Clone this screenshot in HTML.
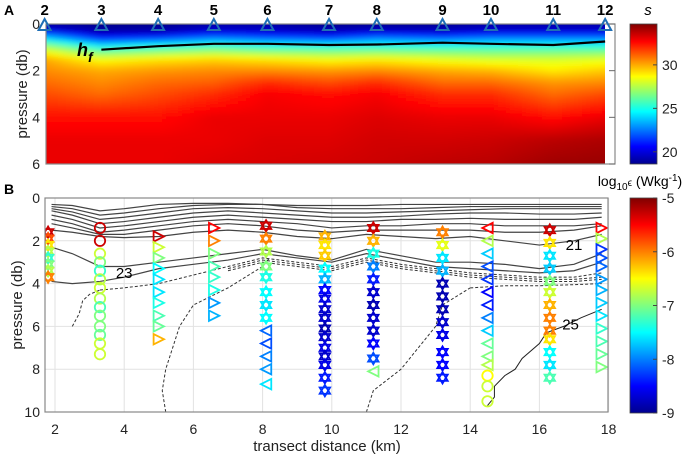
<!DOCTYPE html>
<html><head><meta charset="utf-8"><style>
body{margin:0;background:#fff;width:700px;height:460px;overflow:hidden;font-family:"Liberation Sans",Arial,sans-serif}
svg{display:block}
</style></head><body>
<svg id="fig" width="700" height="460" viewBox="0 0 700 460" xmlns="http://www.w3.org/2000/svg">
<defs>
<filter id="blur" x="0" y="0" width="1" height="1"><feGaussianBlur stdDeviation="3"/></filter>
<clipPath id="clipA"><rect x="46" y="24" width="559" height="140"/></clipPath>
<clipPath id="clipB"><rect x="45" y="198" width="563" height="214"/></clipPath>
<linearGradient id="jet" x1="0" y1="1" x2="0" y2="0">
<stop offset="0" stop-color="#00008f"/><stop offset="0.125" stop-color="#0000ff"/><stop offset="0.375" stop-color="#00ffff"/><stop offset="0.625" stop-color="#ffff00"/><stop offset="0.875" stop-color="#ff0000"/><stop offset="1" stop-color="#800000"/>
</linearGradient>
</defs>
<text x="4" y="15" font-size="14" font-weight="bold">A</text>
<text x="4" y="194" font-size="14" font-weight="bold">B</text>
<g id="panelA"></g>
<g id="panelB"></g>
<text transform="translate(27,94) rotate(-90)" text-anchor="middle" font-size="15" fill="#222">pressure (db)</text>
<text transform="translate(22,305) rotate(-90)" text-anchor="middle" font-size="15" fill="#222">pressure (db)</text>
<text x="327" y="451" text-anchor="middle" font-size="15" fill="#222">transect distance (km)</text>
<rect x="630" y="24" width="27" height="140" fill="url(#jet)"/>
<text x="648" y="15" font-size="15" font-style="italic" text-anchor="middle">s</text>
<rect x="630" y="198" width="27" height="215" fill="url(#jet)"/>
<text x="640" y="186" font-size="14" text-anchor="middle">log<tspan font-size="10" dy="4">10</tspan><tspan dy="-4" font-size="10">ϵ</tspan> (Wkg<tspan font-size="10" dy="-5">-1</tspan><tspan dy="5">)</tspan></text>
<g id="cbars"></g>
</svg>
<script>
// ---------- data ----------
const stationNames = ["2","3","4","5","6","7","8","9","10","11","12"];
const stationKm = [1.7,3.34,4.98,6.59,8.14,9.92,11.3,13.2,14.6,16.4,17.9];
const salDepths = [0,0.3,0.6,1.0,1.5,2,2.5,3,4,5,6];
const salS2 = [19,20.5,24,27.5,30,30.5,31,31.5,32.5,33,33];
const salS3 = [18.8,19.2,21,25,28.5,30,30.5,31,32.5,33,33];
const salS4 = [18.8,19.3,21.5,25.5,29,30.3,31,31.5,32.5,33,33];
const salS5 = [19.2,20,22.5,26,29.3,30.5,31.2,32,33,33,33.2];
const salS6 = [19.2,19.8,22,25.5,29,30.5,32,32.8,33,33.2,33.3];
const salS7 = [18.8,19.5,21.5,25.5,28.5,30.3,31.5,32.5,33,33.2,33.4];
const salS8 = [18.9,19.8,22.5,25.5,28.8,30.5,32,32.8,33.2,33.4,33.5];
const salS9 = [18.9,19.6,22,25.5,28.3,30,31,32,33,33.4,33.7];
const salS10 = [19.2,20,22.5,25.5,28,29.8,31,32,33,33.5,33.8];
const salS11 = [19.2,20,22.5,25.5,28,29,30.3,31,32.5,33.8,34.2];
const salS12 = [19.2,20,22.5,25.5,28.2,29.5,30.5,31.5,33,34,34.3];
const salCols = [salS2,salS3,salS4,salS5,salS6,salS7,salS8,salS9,salS10,salS11,salS12];
const hfKm = [3.34,4.98,6.59,8.14,9.92,11.3,13.2,14.6,16.4,17.9];
const hfDepth = [1.1,0.95,0.85,0.85,0.9,0.88,0.8,0.85,0.9,0.75];
const salTicks = [20,25,30];
const epsTicks = [-5,-6,-7,-8,-9];
const xTicks = [2,4,6,8,10,12,14,16,18];
const yTicksA = [0,2,4,6];
const yTicksB = [0,2,4,6,8,10];

// profiles (station km, shape, depths, log10 eps)
const profKm = [1.8,3.3,5.0,6.6,8.1,8.1,9.8,11.2,11.2,13.2,14.5,14.5,16.3,17.8];
const profShape = ["star","circle","tri-r","tri-r","star","tri-l","star","star","tri-l","star","tri-l","circle","star","tri-r"];
const profDepths = [
 [1.6,1.9,2.2,2.5,2.8,3.1,3.4,3.7],
 [1.4,2.0,2.6,3.0,3.4,3.8,4.2,4.7,5.1,5.5,6.0,6.4,6.8,7.3],
 [1.8,2.3,2.8,3.3,3.8,4.4,4.9,5.5,6.0,6.6],
 [1.4,2.0,2.6,3.2,3.7,4.3,4.9,5.5],
 [1.3,1.9,2.5,3.2,3.7,4.4,5.0,5.6],
 [6.2,6.8,7.4,8.0,8.7],
 [1.8,2.2,2.7,3.3,3.8,4.3,4.7,5.2,5.6,6.1,6.5,7.0,7.4,7.8,8.4,9.0],
 [1.4,2.0,2.6,3.2,3.8,4.4,5.0,5.6,6.2,6.8,7.5],
 [8.1],
 [1.6,2.2,2.8,3.4,4.0,4.6,5.2,5.8,6.4,7.2,7.8,8.4],
 [1.4,2.0,2.6,3.2,3.8,4.4,5.0,5.6,6.2,6.8,7.4,7.8],
 [8.3,8.8,9.5],
 [1.5,2.1,2.7,3.3,3.9,4.4,5.0,5.6,6.2,6.6,7.2,7.8,8.4],
 [1.4,1.9,2.4,2.8,3.2,3.8,4.3,4.9,5.5,6.1,6.7,7.3,7.9]
];
const profEps = [
 [-5.3,-5.8,-6.4,-6.8,-7.3,-7.0,-6.8,-6.0],
 [-5.3,-5.3,-6.7,-7.0,-7.3,-6.8,-6.7,-6.8,-7.2,-7.0,-7.0,-7.1,-6.7,-6.7],
 [-5.3,-6.7,-7.0,-7.5,-7.6,-7.6,-7.4,-7.2,-7.1,-6.2],
 [-5.5,-6.0,-7.0,-7.2,-7.3,-7.4,-7.9,-7.8],
 [-5.3,-6.0,-6.8,-7.0,-7.4,-7.5,-7.6,-7.5],
 [-8.1,-8.2,-8.0,-7.9,-7.6],
 [-6.2,-6.4,-6.3,-7.5,-7.8,-8.5,-8.6,-8.7,-8.7,-8.8,-8.7,-8.6,-8.7,-8.6,-8.4,-8.3],
 [-5.3,-6.2,-7.4,-8.0,-8.4,-8.7,-8.8,-8.7,-8.7,-8.5,-8.2],
 [-7.0],
 [-6.0,-6.6,-7.6,-7.8,-8.8,-8.8,-8.8,-8.7,-8.6,-8.5,-8.5,-8.4],
 [-5.5,-6.8,-7.7,-8.2,-8.3,-8.5,-8.4,-8.0,-7.7,-7.1,-7.0,-6.8],
 [-6.5,-6.7,-6.7],
 [-5.3,-6.4,-7.6,-7.7,-7.0,-6.7,-6.2,-6.0,-6.0,-6.4,-7.5,-7.6,-7.2],
 [-5.5,-6.8,-8.3,-8.2,-8.1,-7.9,-7.8,-7.7,-7.6,-7.3,-7.2,-7.1,-7.0]
];

// density contours
const cKm = [1.9,2.5,3.3,4,5,6,7,8,9,10,11,12,13,14,15,16,17,17.8];
const cL1 = [0.3,0.35,0.6,0.5,0.3,0.25,0.25,0.3,0.35,0.35,0.35,0.3,0.3,0.3,0.3,0.3,0.3,0.3];
const cL2 = [0.4,0.5,0.8,0.7,0.5,0.35,0.3,0.3,0.45,0.5,0.5,0.5,0.45,0.4,0.4,0.4,0.4,0.4];
const cL3 = [0.5,0.65,1.0,0.9,0.7,0.5,0.45,0.5,0.6,0.7,0.7,0.65,0.6,0.55,0.5,0.5,0.5,0.5];
const cL4 = [0.6,0.8,1.2,1.1,0.9,0.7,0.6,0.7,0.8,0.9,0.9,0.85,0.75,0.7,0.7,0.75,0.75,0.7];
const cL5 = [0.8,1.0,1.4,1.3,1.1,0.9,0.8,0.9,1.0,1.1,1.1,1.0,1.0,0.95,1.0,1.0,1.0,0.9];
const cL6 = [1.0,1.2,1.6,1.5,1.3,1.1,1.0,1.1,1.2,1.4,1.3,1.3,1.2,1.2,1.3,1.3,1.3,1.2];
const cL7 = [1.2,1.4,1.7,1.7,1.5,1.3,1.2,1.3,1.5,1.6,1.5,1.5,1.5,1.5,1.6,1.6,1.5,1.3];
const cL8 = [1.5,1.6,1.8,1.85,1.8,1.6,1.5,1.6,1.8,1.9,1.7,1.8,1.9,1.8,2.0,2.2,2.0,1.7];
const cL9 = [2.3,2.6,3.2,3.2,3.0,2.8,2.6,2.4,2.7,2.9,2.4,2.7,3.0,3.0,3.1,3.3,3.1,2.6];
const cL10 = [3.9,4.0,3.9,3.7,3.3,3.1,2.9,2.6,2.8,3.0,2.6,2.9,3.2,3.3,3.4,3.5,3.4,3.0];
const dL1 = [null,null,4.3,4.2,4.0,3.6,3.2,2.8,3.0,3.2,2.8,3.1,3.3,3.5,3.6,3.7,3.7,3.5];
const dL2 = [null,null,null,null,null,null,3.3,2.9,3.1,3.3,2.9,3.2,3.4,3.6,3.7,3.8,3.8,3.7];
const dL3 = [null,null,null,null,null,null,3.4,3.0,3.2,3.4,3.0,3.3,3.5,3.7,3.8,3.9,3.9,3.8];
const dL4 = [null,null,null,null,null,null,null,null,null,null,null,null,null,4.2,4.1,4.1,4.05,4.0];
const vKm1 = [2.5,2.7,2.8,3.0,3.3];
const vDep1 = [6.0,5.4,4.8,4.5,4.3];
const vKm2 = [5.2,5.1,5.2,5.4,5.6,6.0,7.0,8.0,8.2];
const vDep2 = [10,9,8,7,6,5,4.2,3.2,2.8];
const vKm3 = [11.0,11.2,11.6,12.0,12.5,13.0,13.2,14.0];
const vDep3 = [10,9,8.5,8,7,6,5,4.2];
const s25Km = [14.5,14.7,14.7,15.0,15.3,15.5,16.0,16.2,16.7,17.2,17.8];
const s25Dep = [9.7,9.3,8.8,8.3,8.0,7.5,6.8,6.3,6.0,5.6,5.2];

// ---------- axes ----------
const xA = km => 55 + (km-2)*34.6;
const yA = p => 24 + p*(140/6);
const yB = p => 198 + p*21.4;
const NS='http://www.w3.org/2000/svg';
function el(tag, attrs, parent){const e=document.createElementNS(NS,tag);for(const k in attrs)e.setAttribute(k,attrs[k]);parent.appendChild(e);return e;}
function jet(t){t=Math.max(0,Math.min(1,t));
 const r=Math.max(0,Math.min(1,Math.min(4*t-1.5,-4*t+4.5)));
 const g=Math.max(0,Math.min(1,Math.min(4*t-0.5,-4*t+3.5)));
 const b=Math.max(0,Math.min(1,Math.min(4*t+0.5,-4*t+2.5)));
 return `rgb(${Math.round(r*255)},${Math.round(g*255)},${Math.round(b*255)})`;}
const salMin=18.6, salMax=34.7;
function interp(xs,ys,x){if(x<=xs[0])return ys[0];for(let i=1;i<xs.length;i++){if(x<=xs[i]){const f=(x-xs[i-1])/(xs[i]-xs[i-1]);return ys[i-1]+f*(ys[i]-ys[i-1]);}}return ys[ys.length-1];}

// ---------- panel A ----------
const A=document.getElementById('panelA');
const heat=el('g',{'clip-path':'url(#clipA)'},A);


const hg=el('g',{filter:'url(#blur)'},heat);
const cw=4, ch=3;
for(let px=38;px<612;px+=cw){
 const km=2+(px+cw/2-55)/34.6;
 const col=salDepths.map((d,j)=>interp(stationKm,salCols.map(c=>c[j]),km));
 for(let py=14;py<172;py+=ch){
  const p=(py+ch/2-24)/(140/6);
  const v=interp(salDepths,col,p);
  el('rect',{x:px,y:py,width:cw+0.5,height:ch+0.5,fill:jet((v-salMin)/(salMax-salMin))},hg);
 }
}
el('rect',{x:605,y:24,width:10,height:140,fill:'#fff'},A);
const fa=el('rect',{x:46,y:24,width:569,height:140,fill:'none',stroke:'#888','stroke-width':1.2},A);


yTicksA.forEach(t=>{
 const tl=el('text',{x:40,y:yA(t)+5,'text-anchor':'end','font-size':14,fill:'#222'},A);tl.textContent=t;
 
 
 el('line',{x1:609,x2:615,y1:yA(t),y2:yA(t),stroke:'#666'},A);
});
const hfPts=hfKm.map((k,i)=>xA(k)+','+yA(hfDepth[i])).join(' ');
const hf=el('polyline',{points:hfPts,fill:'none',stroke:'#000','stroke-width':2.2},A);


const hft=el('text',{x:77,y:56,'font-size':18,'font-weight':'bold','font-style':'italic'},A);
hft.innerHTML='h<tspan font-size="14" dy="6">f</tspan>';


stationKm.forEach((k,i)=>{
 const x=xA(k);
 const tri=el('polygon',{points:`${x-6},30 ${x+6},30 ${x},19`,fill:'none',stroke:'#1f6fb5','stroke-width':2},A);
 
 
 const t=el('text',{x:x,y:15,'text-anchor':'middle','font-size':15,'font-weight':'bold'},A);t.textContent=stationNames[i];
 
 
});

// ---------- panel B ----------
const B=document.getElementById('panelB');
el('rect',{x:45,y:198,width:563,height:214,fill:'#fff'},B);
xTicks.forEach(t=>{
 el('line',{x1:xA(t),x2:xA(t),y1:198,y2:412,stroke:'#e2e2e2'},B);
 const tl=el('text',{x:xA(t),y:434,'text-anchor':'middle','font-size':14,fill:'#222'},B);tl.textContent=t;
 
 
});
yTicksB.forEach(t=>{
 if(t>0&&t<10) el('line',{x1:45,x2:608,y1:yB(t),y2:yB(t),stroke:'#e2e2e2'},B);
 const tl=el('text',{x:40,y:yB(t)+5,'text-anchor':'end','font-size':14,fill:'#222'},B);tl.textContent=t;
 
 
});
const cg=el('g',{'clip-path':'url(#clipB)',fill:'none'},B);
function poly(kms,deps,attrs,name){
 const pts=[];kms.forEach((k,i)=>{if(deps[i]!=null)pts.push(xA(k)+','+yB(deps[i]));});
 const p=el('polyline',Object.assign({points:pts.join(' ')},attrs),cg);
 
 
}
[cL1,cL2,cL3,cL4,cL5,cL6,cL7,cL8,cL9,cL10].forEach((L,i)=>poly(cKm,L,{stroke:'#444','stroke-width':1.2},'density-contour-'+(i+1)));
[dL1,dL2,dL3,dL4].forEach((L,i)=>poly(cKm,L,{stroke:'#333','stroke-width':1,'stroke-dasharray':'3,2'},'dashed-contour-'+(i+1)));
poly(vKm1,vDep1,{stroke:'#333','stroke-width':1,'stroke-dasharray':'3,2'},'dashed-contour-v1');
poly(vKm2,vDep2,{stroke:'#333','stroke-width':1,'stroke-dasharray':'3,2'},'dashed-contour-v2');
poly(vKm3,vDep3,{stroke:'#333','stroke-width':1,'stroke-dasharray':'3,2'},'dashed-contour-v3');
poly(s25Km,s25Dep,{stroke:'#222','stroke-width':1},'contour-25');
[['21',17.0,2.2],['23',4.0,3.5],['25',16.9,5.9]].forEach(l=>{
 const t=el('text',{x:xA(l[1]),y:yB(l[2])+5,'text-anchor':'middle','font-size':15,fill:'#000'},B);t.textContent=l[0];
 
 
});
const mg=el('g',{'clip-path':'url(#clipB)',fill:'none','stroke-width':1.8},B);
const s=5.2;
profKm.forEach((k,i)=>{
 const x=xA(k);
 profDepths[i].forEach((d,j)=>{
  const y=yB(d), c=jet((profEps[i][j]+9)/4), sh=profShape[i];
  let m;
  if(sh==='circle') m=el('circle',{cx:x,cy:y,r:s,stroke:c},mg);
  else if(sh==='tri-r') m=el('polygon',{points:`${x-s},${y-s} ${x+s},${y} ${x-s},${y+s}`,stroke:c},mg);
  else if(sh==='tri-l') m=el('polygon',{points:`${x+s},${y-s} ${x-s},${y} ${x+s},${y+s}`,stroke:c},mg);
  else { m=el('polygon',{points:`${x-s},${y+s*0.6} ${x+s},${y+s*0.6} ${x},${y-s*1.1}`,stroke:c},mg);
         el('polygon',{points:`${x-s},${y-s*0.6} ${x+s},${y-s*0.6} ${x},${y+s*1.1}`,stroke:c},mg); }
  
  
 });
});
const fb=el('rect',{x:45,y:198,width:563,height:214,fill:'none',stroke:'#888','stroke-width':1.2},B);



// ---------- colorbars ----------
const CB=document.getElementById('cbars');
el('rect',{x:630,y:24,width:27,height:140,fill:'none',stroke:'#444','stroke-width':0.8},CB);
el('rect',{x:630,y:198,width:27,height:215,fill:'none',stroke:'#444','stroke-width':0.8},CB);
salTicks.forEach(t=>{
 const y=164-(t-salMin)/(salMax-salMin)*140;
 el('line',{x1:653,x2:657,y1:y,y2:y,stroke:'#444'},CB);
 const tl=el('text',{x:662,y:y+5,'font-size':14,fill:'#222'},CB);tl.textContent=t;
 
 
});
epsTicks.forEach(t=>{
 const y=413-(t+9)/4*215;
 el('line',{x1:653,x2:657,y1:y,y2:y,stroke:'#444'},CB);
 const tl=el('text',{x:662,y:y+5,'font-size':14,fill:'#222'},CB);tl.textContent=t;
 
 
});
</script>
</body></html>
